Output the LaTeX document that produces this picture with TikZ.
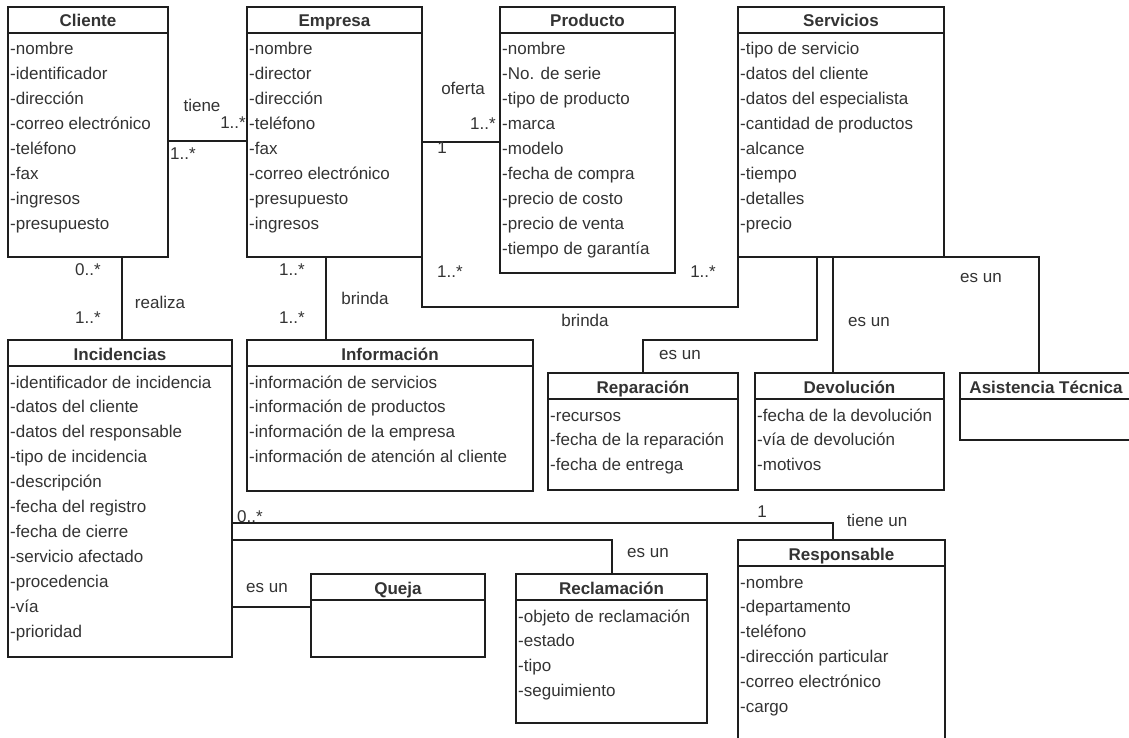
\documentclass[tikz,border=0pt]{standalone}
\usepackage{fontspec}
\setmainfont{Liberation Sans}
\usetikzlibrary{calc}
\definecolor{ink}{HTML}{333333}
\definecolor{edge}{HTML}{1E1E1E}
\tikzset{
  cls/.style={rectangle, draw=edge, line width=1.2pt, fill=white, inner sep=0pt, outer sep=0pt},
  ln/.style={draw=edge, line width=1.2pt},
  ttl/.style={font=\fontsize{17}{20}\selectfont\bfseries, text=ink, inner sep=0pt},
  attr/.style={font=\fontsize{17}{20}\selectfont, text=ink, inner sep=0pt, anchor=base west},
  lbl/.style={font=\fontsize{17}{20}\selectfont, text=ink, inner sep=0pt}
}
\newcommand{\umlbox}[6]{%
  \node[cls, minimum width=#4pt, minimum height=#5pt, anchor=north west] (#1) at (#2,#3) {};
  \draw[ln] ($(#1.north west)+(0,26)$) -- ($(#1.north east)+(0,26)$);
  \node[ttl, anchor=base] (#1-title) at ($(#1.north)+(0,20)$) {#6};
}
\newcommand{\umlclass}[7]{%
  \umlbox{#1}{#2}{#3}{#4}{#5}{#6}
  \foreach \a [count=\i from 0] in {#7} {
    \node[attr] (#1-a\i) at ($(#1.north west)+(2,{48+24.9*\i})$) {\a};
  }
}
\begin{document}
\begin{tikzpicture}[x=1pt, y=-1pt]
\useasboundingbox (0,0) rectangle (1129,738);
\clip (0,0) rectangle (1129,738);
\fill[white] (0,0) rectangle (1129,738);

% classes
\umlclass{cli}{8}{7}{160}{250}{Cliente}{-nombre,-identificador,-dirección,-correo electrónico,-teléfono,-fax,-ingresos,-presupuesto}
\umlclass{emp}{247}{7}{175}{250}{Empresa}{-nombre,-director,-dirección,-teléfono,-fax,-correo electrónico,-presupuesto,-ingresos}
\umlclass{pro}{500}{7}{175}{266}{Producto}{-nombre,-No. de serie,-tipo de producto,-marca,-modelo,-fecha de compra,-precio de costo,-precio de venta,-tiempo de garantía}
\umlclass{ser}{738}{7}{206}{250}{Servicios}{-tipo de servicio,-datos del cliente,-datos del especialista,-cantidad de productos,-alcance,-tiempo,-detalles,-precio}
\umlclass{inc}{8}{340}{224}{317}{Incidencias}{-identificador de incidencia,-datos del cliente,-datos del responsable,-tipo de incidencia,-descripción,-fecha del registro,-fecha de cierre,-servicio afectado,-procedencia,-vía,-prioridad}
\umlclass{inf}{247}{340}{286}{151}{Información}{-información de servicios,-información de productos,-información de la empresa,-información de atención al cliente}
\umlclass{rep}{548}{373}{190}{117}{Reparación}{-recursos,-fecha de la reparación,-fecha de entrega}
\umlclass{dev}{755}{373}{189}{117}{Devolución}{-fecha de la devolución,-vía de devolución,-motivos}
\umlbox{asi}{960}{373}{172}{67}{Asistencia Técnica}
\umlbox{que}{311}{574}{174}{83}{Queja}
\umlclass{rec}{516}{574}{191}{149}{Reclamación}{-objeto de reclamación,-estado,-tipo,-seguimiento}
\umlclass{res}{738}{540}{207}{210}{Responsable}{-nombre,-departamento,-teléfono,-dirección particular,-correo electrónico,-cargo}

% helper coordinates
\coordinate (hTiene) at (0,141);
\coordinate (hOferta) at (0,142);
\coordinate (vRealiza) at (122,0);
\coordinate (vBrinda) at (326,0);
\coordinate (vRep) at (817,0);
\coordinate (hRep) at (0,340);
\coordinate (vRepB) at (643,0);
\coordinate (vDev) at (833,0);
\coordinate (vAsi) at (1039,0);
\coordinate (hRes) at (0,523);
\coordinate (vRes) at (833,0);
\coordinate (hRec) at (0,540);
\coordinate (vRec) at (612,0);
\coordinate (hQue) at (0,607);

% connectors
\draw[ln] (cli.east |- hTiene) -- (emp.west |- hTiene);
\draw[ln] (emp.east |- hOferta) -- (pro.west |- hOferta);
\draw[ln] (cli.south -| vRealiza) -- (inc.north -| vRealiza);
\draw[ln] (emp.south -| vBrinda) -- (inf.north -| vBrinda);
\draw[ln] (emp.south east) -- ++(0,50) -| (ser.south west);
\draw[ln] (ser.south -| vRep) |- (hRep -| vRepB) -- (rep.north -| vRepB);
\draw[ln] (ser.south -| vDev) -- (dev.north -| vDev);
\draw[ln] (ser.south east) -| (asi.north -| vAsi);
\draw[ln] (inc.east |- hRes) -| (res.north -| vRes);
\draw[ln] (inc.east |- hRec) -| (rec.north -| vRec);
\draw[ln] (inc.east |- hQue) -- (que.west |- hQue);

% labels
\node[lbl] (l1) at (202,105) {tiene};
\node[lbl] (l2) at (183,154) {1..*};
\node[lbl, anchor=east] (l3) at (246,123) {1..*};
\node[lbl] (l4) at (463,88) {oferta};
\node[lbl] (l5) at (483,124) {1..*};
\node[lbl] (l6) at (442,148) {1};
\node[lbl] (l7) at (160,302) {realiza};
\node[lbl] (l8) at (88,270) {0..*};
\node[lbl] (l9) at (88,318) {1..*};
\node[lbl] (l10) at (365,298) {brinda};
\node[lbl] (l11) at (292,270) {1..*};
\node[lbl] (l12) at (292,318) {1..*};
\node[lbl] (l13) at (585,320) {brinda};
\node[lbl] (l14) at (450,272) {1..*};
\node[lbl] (l15) at (703,272) {1..*};
\node[lbl] (l16) at (680,355) {es un};
\node[lbl] (l17) at (869,322) {es un};
\node[lbl] (l18) at (981,278) {es un};
\node[lbl] (l19) at (250,517) {0..*};
\node[lbl] (l20) at (762,512) {1};
\node[lbl] (l21) at (877,520) {tiene un};
\node[lbl] (l22) at (648,553) {es un};
\node[lbl] (l23) at (267,588) {es un};
\end{tikzpicture}
\end{document}
